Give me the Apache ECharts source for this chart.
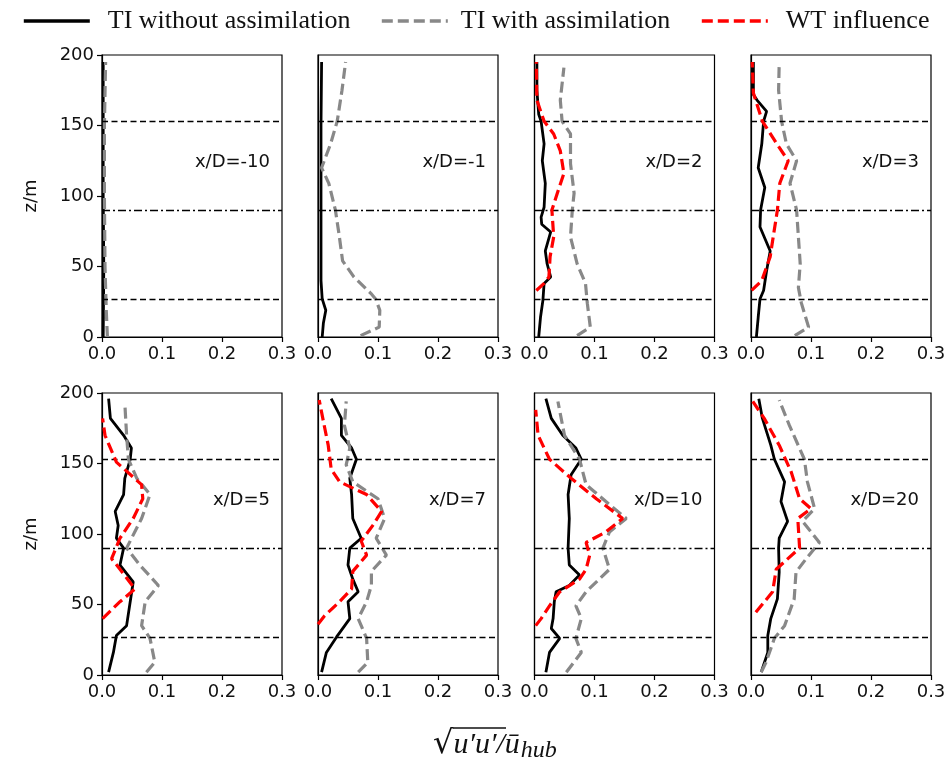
<!DOCTYPE html>
<html><head><meta charset="utf-8">
<script src="https://cdn.jsdelivr.net/npm/echarts@6/dist/echarts.min.js"></script>
<style>html,body{margin:0;padding:0;background:#fff}#c{width:952px;height:768px}</style>
</head><body><div id="c"></div>
<script>
// ---- data: [value, z] pairs ----
const panelTitles = ['x/D=-10','x/D=-1','x/D=2','x/D=3','x/D=5','x/D=7','x/D=10','x/D=20'];
const xTicks = [0, 0.1, 0.2, 0.3];
const yTicks = [0, 50, 100, 150, 200];
const refLevels = [153, 90, 27];

const noAssim_m10 = [[0.002,0],[0.003,50],[0.002,100],[0.002,150],[0.002,195]];
const withAssim_m10 = [[0.009,0],[0.007,20],[0.005,50],[0.004,100],[0.004,150],[0.006,195]];
const wt_m10 = [];

const noAssim_m1 = [[0.007,0],[0.009,10],[0.013,19],[0.007,27],[0.005,40],[0.005,100],[0.005,150],[0.006,195]];
const withAssim_m1 = [[0.071,1],[0.102,7],[0.103,19],[0.096,27],[0.088,31],[0.06,42.5],[0.041,54],[0.035,73],[0.029,90],[0.018,109],[0.006,120],[0.021,137],[0.032,153],[0.04,175],[0.046,195]];
const wt_m1 = [];

const noAssim_2 = [[0.007,0],[0.01,14],[0.014,26],[0.016,38],[0.027,42.5],[0.021,52],[0.018,61],[0.027,74.5],[0.012,80],[0.011,85],[0.016,92],[0.018,109],[0.013,125],[0.016,137],[0.011,153],[0.007,158],[0.004,175],[0.004,195]];
const withAssim_2 = [[0.071,1],[0.093,7],[0.088,24],[0.085,38],[0.071,52],[0.06,71],[0.063,90],[0.066,102],[0.06,123],[0.06,144],[0.046,153],[0.043,168],[0.049,191]];
const wt_2 = [[0.003,33],[0.016,38],[0.024,42.5],[0.026,57],[0.032,71],[0.029,90],[0.038,102],[0.049,116],[0.043,132],[0.032,144],[0.016,153],[0.004,168],[0.003,195]];

const noAssim_3 = [[0.009,0],[0.012,14],[0.015,27],[0.021,33],[0.026,47],[0.032,61],[0.015,78],[0.016,90],[0.023,106],[0.012,120],[0.018,137],[0.021,153],[0.026,160],[0.01,168],[0.004,172],[0.004,195]];
const withAssim_3 = [[0.073,1],[0.096,7],[0.084,24],[0.079,35],[0.082,52],[0.079,71],[0.076,90],[0.065,109],[0.076,125],[0.059,137],[0.051,153],[0.046,175],[0.047,194]];
const wt_3 = [[0.001,33],[0.018,40],[0.032,57],[0.037,71],[0.044,90],[0.048,109],[0.062,125],[0.043,137],[0.019,153],[0.004,173],[0.002,195]];

const noAssim_5 = [[0.011,2],[0.019,16],[0.024,28],[0.041,35],[0.047,52],[0.052,66],[0.03,78],[0.036,90],[0.024,97],[0.027,106],[0.022,116],[0.036,128],[0.038,139.5],[0.047,153],[0.049,161],[0.036,170],[0.014,182],[0.011,196]];
const withAssim_5 = [[0.074,2],[0.088,9],[0.08,26],[0.066,35],[0.072,52],[0.094,63.5],[0.063,78],[0.041,90],[0.066,111],[0.08,128],[0.058,139.5],[0.044,153],[0.041,170],[0.038,193]];
const wt_5 = [[0.001,40],[0.03,52],[0.055,61],[0.03,75],[0.016,82.5],[0.03,97],[0.052,111],[0.068,125],[0.066,135],[0.024,151],[0.005,170],[0.001,182]];

const noAssim_7 = [[0.006,2],[0.014,16],[0.031,27],[0.053,40],[0.05,52],[0.067,59],[0.058,68],[0.05,78],[0.053,90],[0.072,97],[0.058,111],[0.056,128],[0.053,139.5],[0.064,153],[0.056,161],[0.039,170],[0.039,182],[0.022,196]];
const withAssim_7 = [[0.067,2],[0.083,9],[0.081,26],[0.067,40],[0.081,52],[0.089,63.5],[0.089,73.5],[0.114,85],[0.097,97],[0.111,111],[0.1,125],[0.058,137],[0.047,149],[0.053,161],[0.044,177],[0.047,194]];
const wt_7 = [[0,36],[0.011,42],[0.036,52],[0.056,61],[0.058,73.5],[0.081,85],[0.072,95],[0.092,106.5],[0.106,116],[0.081,128],[0.036,137],[0.022,146],[0.017,163],[0.008,182],[0.002,195]];

const noAssim_10 = [[0.019,2],[0.025,16],[0.042,26],[0.028,33],[0.031,40],[0.033,52],[0.036,59],[0.058,63.5],[0.075,71],[0.058,78],[0.056,90],[0.058,111],[0.056,128],[0.061,142],[0.078,153],[0.069,161],[0.047,170],[0.028,182],[0.019,196]];
const withAssim_10 = [[0.053,2],[0.078,16],[0.069,26],[0.078,40],[0.069,49],[0.086,59],[0.125,75],[0.114,90],[0.125,101.5],[0.153,111],[0.119,123],[0.086,135],[0.075,153],[0.05,170],[0.039,194]];
const wt_10 = [[0.002,35],[0.011,40],[0.025,49],[0.042,59],[0.075,68],[0.086,75],[0.092,85],[0.086,94],[0.119,101.5],[0.147,111],[0.103,125],[0.061,139.5],[0.025,153],[0.006,170],[0.002,188]];

const noAssim_20 = [[0.017,2],[0.028,16],[0.028,28],[0.033,40],[0.044,54],[0.047,73],[0.046,90],[0.047,97],[0.061,109],[0.05,123],[0.056,137],[0.039,153],[0.033,163],[0.019,182],[0.013,196]];
const withAssim_20 = [[0.017,2],[0.025,9],[0.039,26],[0.056,35],[0.072,54],[0.075,73],[0.092,82.5],[0.114,94],[0.086,109],[0.106,118],[0.094,137],[0.089,153],[0.064,177],[0.047,195]];
const wt_20 = [[0.008,44.5],[0.036,59],[0.042,75],[0.081,90],[0.078,111],[0.1,118],[0.081,125],[0.067,144],[0.047,163],[0.022,182],[0.003,194]];

const noAssimAll = [noAssim_m10, noAssim_m1, noAssim_2, noAssim_3, noAssim_5, noAssim_7, noAssim_10, noAssim_20];
const withAssimAll = [withAssim_m10, withAssim_m1, withAssim_2, withAssim_3, withAssim_5, withAssim_7, withAssim_10, withAssim_20];
const wtAll = [wt_m10, wt_m1, wt_2, wt_3, wt_5, wt_7, wt_10, wt_20];

const NAMES = ['TI without assimilation', 'TI with assimilation', 'WT influence'];

// ---- layout ----
const colLeft = [102, 318, 534.5, 751];
const rowTop = [55, 393];
const W = 180, H = 282;
const tickFont = 'DejaVu Sans';

const grids = [], xAxes = [], yAxes = [], series = [], graphics = [];
for (let i = 0; i < 8; i++) {
  const r = Math.floor(i / 4), c = i % 4;
  grids.push({left: colLeft[c], top: rowTop[r], width: W, height: H, show: true, borderColor: '#000', borderWidth: 1.2, backgroundColor: 'transparent'});
  xAxes.push({type: 'value', gridIndex: i, min: xTicks[0], max: xTicks[xTicks.length-1], interval: 0.1,
    axisLine: {show: true, onZero: false, lineStyle: {color: '#000', width: 1.2}},
    axisTick: {show: true, length: 5, lineStyle: {color: '#000', width: 1.2}},
    splitLine: {show: false},
    axisLabel: {show: true, margin: 8, color: '#111', fontFamily: tickFont, fontSize: 18, formatter: v => v.toFixed(1)}});
  yAxes.push({type: 'value', gridIndex: i, min: yTicks[0], max: yTicks[yTicks.length-1], interval: 50,
    axisLine: {show: true, onZero: false, lineStyle: {color: '#000', width: 1.2}},
    axisTick: {show: c === 0, length: 5, lineStyle: {color: '#000', width: 1.2}},
    splitLine: {show: false},
    axisLabel: {show: c === 0, margin: 8, color: '#111', fontFamily: tickFont, fontSize: 18},
    name: c === 0 ? 'z/m' : '', nameLocation: 'middle', nameGap: 62, nameRotate: 90,
    nameTextStyle: {color: '#111', fontFamily: tickFont, fontSize: 18}});
  series.push({name: NAMES[0], type: 'line', xAxisIndex: i, yAxisIndex: i, data: noAssimAll[i], symbol: 'none', z: 3,
    lineStyle: {color: '#000', width: 2.8}, itemStyle: {color: '#000'},
    markLine: {silent: true, symbol: 'none', label: {show: false}, animation: false,
      data: [
        {yAxis: refLevels[0], lineStyle: {color: '#000', width: 1.3, type: [6, 3.5]}},
        {yAxis: refLevels[1], lineStyle: {color: '#000', width: 1.3, type: [8, 3, 2, 3]}},
        {yAxis: refLevels[2], lineStyle: {color: '#000', width: 1.3, type: [6, 3.5]}}
      ]}});
  series.push({name: NAMES[1], type: 'line', xAxisIndex: i, yAxisIndex: i, data: withAssimAll[i], symbol: 'none', z: 4,
    lineStyle: {color: '#888888', width: 3.2, type: [11, 5]}, itemStyle: {color: '#888888'}});
  series.push({name: NAMES[2], type: 'line', xAxisIndex: i, yAxisIndex: i, data: wtAll[i], symbol: 'none', z: 5,
    lineStyle: {color: '#ff0000', width: 3.2, type: [11, 5]}, itemStyle: {color: '#ff0000'}});
  graphics.push({type: 'text', x: colLeft[c] + W - 12, y: rowTop[r] + 107, style: {text: panelTitles[i], fill: '#111', font: '18px "DejaVu Sans"', textAlign: 'right', textVerticalAlign: 'middle'}});
}

// x-axis label: sqrt(u'u') / u_hub
graphics.push({type: 'text', x: 433, y: 745, style: {
  text: '{s|√}{u|u′u′}{d|/ū}{h|hub}', textVerticalAlign: 'middle',
  rich: {
    s: {font: '32px "DejaVu Serif"', fill: '#111'},
    u: {font: 'italic 30px "Liberation Serif"', fill: '#111'},
    d: {font: 'italic 30px "Liberation Serif"', fill: '#111'},
    h: {font: 'italic 24px "Liberation Serif"', fill: '#111', padding: [12, 0, 0, 1]}
  }}});
graphics.push({type: 'line', shape: {x1: 453, y1: 728, x2: 506, y2: 728}, style: {stroke: '#111', lineWidth: 1.5}});

const legendPos = [22, 380, 700];
const legendTextPad = [13, 8, 13];
const legends = NAMES.map((n, k) => ({data: [n], left: legendPos[k], top: 8, padding: 0, itemWidth: 66, itemHeight: 14, itemGap: 0,
  itemStyle: {opacity: 0}, lineStyle: {width: 3.6},
  textStyle: {fontFamily: 'Liberation Serif', fontSize: 26, color: '#111', padding: [0, 0, 0, legendTextPad[k]]}, selectedMode: false}));

const chart = echarts.init(document.getElementById('c'), null, {renderer: 'canvas'});
chart.setOption({animation: false, backgroundColor: '#fff', grid: grids, xAxis: xAxes, yAxis: yAxes, series: series, legend: legends, graphic: graphics});
</script></body></html>
